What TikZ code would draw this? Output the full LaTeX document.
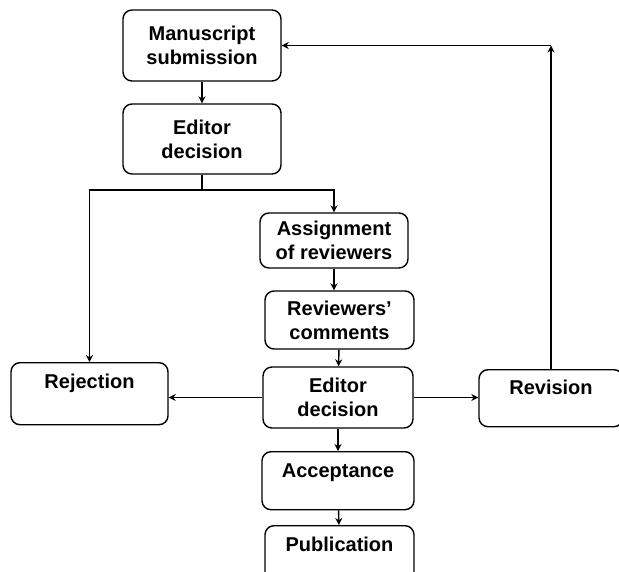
\documentclass[tikz,border=0pt]{standalone}
\usepackage{fontspec}
\setmainfont{Liberation Sans}
\usetikzlibrary{arrows.meta}

\tikzset{
  stage/.style={draw, line width=1.4pt, rounded corners=9pt, align=center,
    inner sep=0pt, font=\bfseries\fontsize{20}{24}\selectfont},
  flow/.style={line width=1.4pt, -{Stealth[length=7pt,width=7pt]}},
  link/.style={line width=1.4pt}
}

\begin{document}
\begin{tikzpicture}[x=1pt, y=-1pt]
\path[use as bounding box, clip] (0,0) rectangle (619,571);

% Upper column
\node[stage, minimum width=158pt, minimum height=71pt] (ms) at (202,45.5) {Manuscript\\submission};
\node[stage, minimum width=158pt, minimum height=70pt] (ed1) at (202,139) {Editor\\decision};

% Review column
\node[stage, minimum width=148pt, minimum height=55pt] (asg) at (334,240.5) {Assignment\\of reviewers};
\node[stage, minimum width=149pt, minimum height=58pt] (revc) at (339.5,320) {Reviewers'\\comments};
\node[stage, minimum width=150pt, minimum height=61pt] (ed2) at (338,397.5) {Editor\\decision};

% Outcomes (text sits high in the box)
\node[stage, anchor=north, minimum width=157pt, minimum height=62pt,
  text height=14pt, text depth=24pt] (rej) at (89.5,362) {Rejection};
\node[stage, anchor=north, minimum width=144pt, minimum height=57pt,
  text height=14pt, text depth=21pt] (rv) at (551,369) {Revision};
\node[stage, anchor=north, minimum width=152pt, minimum height=58pt,
  text height=14pt, text depth=20pt] (acc) at (338,451) {Acceptance};
\node[stage, anchor=north, minimum width=149pt, minimum height=58pt,
  text height=14pt, text depth=20pt] (pub) at (339.5,525) {Publication};

% Connectors
\draw[flow] (ms) -- (ed1);
\coordinate (split) at (202,190);
\draw[link] (ed1.south) -- (split);
\draw[flow] (split) -| (rej.north);
\draw[flow] (split) -| (asg.north);
\draw[flow] (asg.south) -- (asg.south |- revc.north);
\draw[flow] (revc) -- (ed2);
\draw[flow] (ed2.west) -- (ed2.west -| rej.east);
\draw[flow] (ed2.east) -- (ed2.east -| rv.west);
\draw[flow] (ed2) -- (acc);
\draw[flow] (acc) -- (pub);

% Back to submission
\coordinate (corner) at (rv.north |- ms.east);
\draw[flow] (rv.north) -- (corner);
\draw[flow] (corner) -- (ms.east);

\end{tikzpicture}
\end{document}
